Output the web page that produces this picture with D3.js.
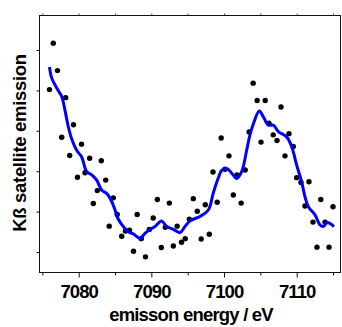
<!DOCTYPE html>
<html>
<head>
<meta charset="utf-8">
<script src="https://cdn.jsdelivr.net/npm/d3@7"></script>
<style>
  body { margin: 0; background: #fff; }
  svg text { font-family: "Liberation Sans", Arial, sans-serif; font-weight: bold; fill: #000; }
</style>
</head>
<body>
<div id="chart"></div>
<script>
// measured points (emission energy in eV, intensity in arb. units)
const energy = [7075.98, 7076.50, 7077.08, 7077.66, 7078.21, 7078.76, 7079.28, 7079.83, 7080.39, 7080.87,
  7081.51, 7082.01, 7082.56, 7083.11, 7083.72, 7084.20, 7084.76, 7085.30, 7085.92, 7086.44,
  7086.99, 7087.54, 7088.05, 7088.61, 7089.19, 7089.72, 7090.25, 7090.82, 7091.37, 7091.92,
  7092.47, 7093.02, 7093.55, 7094.15, 7094.66, 7095.22, 7095.77, 7096.32, 7096.86, 7097.42,
  7097.97, 7098.48, 7099.06, 7099.61, 7100.13, 7100.68, 7101.28, 7101.78, 7102.36, 7102.91,
  7103.46, 7104.01, 7104.56, 7105.09, 7105.67, 7106.19, 7106.77, 7107.29, 7107.84, 7108.39,
  7108.94, 7109.53, 7110.00, 7110.59, 7111.14, 7111.69, 7112.24, 7112.79, 7113.32, 7113.90,
  7114.45, 7115.00];
const intensity = [5.02, 6.17, 5.49, 3.84, 4.82, 3.39, 4.15, 2.85, 3.67, 2.96,
  3.32, 2.20, 2.52, 3.26, 2.78, 1.64, 2.34, 1.93, 1.39, 1.52,
  1.54, 1.02, 1.93, 1.33, 0.88, 1.56, 1.84, 2.30, 1.11, 1.61,
  2.21, 1.15, 1.64, 1.24, 1.33, 1.81, 2.32, 2.01, 1.32, 2.17,
  1.44, 2.98, 2.23, 3.82, 3.05, 3.38, 2.41, 2.91, 2.21, 3.03,
  3.97, 5.18, 4.75, 3.72, 4.75, 4.19, 3.90, 3.76, 4.59, 3.38,
  3.93, 3.61, 2.84, 2.72, 2.14, 2.74, 1.74, 1.12, 2.30, 1.74,
  1.12, 2.12];

// smoothed curve
const smoothEnergy = [7075.98, 7076.28, 7076.97, 7077.66, 7078.11, 7078.57, 7079.04, 7079.72, 7080.41, 7081.10,
  7081.79, 7082.48, 7083.17, 7083.85, 7084.54, 7085.00, 7085.45, 7086.14, 7086.83, 7087.51,
  7088.44, 7089.12, 7089.81, 7090.50, 7091.39, 7092.11, 7093.02, 7093.94, 7094.63, 7095.32,
  7096.69, 7097.84, 7098.52, 7099.21, 7099.68, 7100.37, 7101.06, 7101.74, 7102.43, 7103.12,
  7103.57, 7104.03, 7104.85, 7105.40, 7106.09, 7106.78, 7107.47, 7108.62, 7109.31, 7110.00,
  7110.69, 7111.14, 7111.60, 7112.52, 7113.21, 7113.66, 7114.21, 7114.58, 7115.13];
const smoothIntensity = [5.58, 5.31, 5.06, 4.85, 4.51, 4.10, 3.80, 3.52, 3.35, 2.99,
  2.91, 2.78, 2.53, 2.45, 2.25, 2.04, 1.81, 1.63, 1.50, 1.45,
  1.34, 1.46, 1.56, 1.63, 1.77, 1.63, 1.56, 1.48, 1.63, 1.77,
  1.88, 2.04, 2.46, 2.83, 3.02, 3.07, 2.95, 2.82, 2.99, 3.52,
  3.90, 4.17, 4.49, 4.35, 4.14, 4.14, 3.98, 3.85, 3.61, 3.15,
  2.73, 2.37, 2.12, 1.92, 1.67, 1.63, 1.73, 1.71, 1.63];

const xMajor = [7080, 7090, 7100, 7110];
const xMinor = [7075, 7085, 7095, 7105, 7115];
const yTicks = [1, 2, 3, 4, 5, 6];

const width = 342, height = 327;
const plotLeft = 39.5, plotRight = 340.5, plotTop = 15.5, plotBottom = 272.5;

const svg = d3.select('#chart').append('svg')
  .attr('width', width)
  .attr('height', height);

const x = d3.scaleLinear().domain([7074.606, 7116.03]).range([plotLeft, plotRight]);
const y = d3.scaleLinear().domain([0.4926, 6.854]).range([plotBottom, plotTop]);

// bottom axis, major + minor ticks
svg.append('g')
  .attr('transform', `translate(0,${plotBottom})`)
  .call(d3.axisBottom(x).tickValues(xMajor).tickSize(5).tickPadding(7).tickFormat(d3.format('d')))
  .call(g => g.select('.domain').remove())
  .call(g => g.selectAll('line').attr('stroke', '#111'))
  .call(g => g.selectAll('text').attr('font-size', 18.5).attr('letter-spacing', -0.9).attr('fill', '#000'));

svg.append('g')
  .attr('transform', `translate(0,${plotBottom})`)
  .call(d3.axisBottom(x).tickValues(xMinor).tickSize(3).tickFormat(''))
  .call(g => g.select('.domain').remove())
  .call(g => g.selectAll('line').attr('stroke', '#111'));

// top ticks
svg.append('g')
  .attr('transform', `translate(0,${plotTop})`)
  .call(d3.axisTop(x).tickValues(xMajor.concat(xMinor)).tickSize(2).tickFormat(''))
  .call(g => g.select('.domain').remove())
  .call(g => g.selectAll('line').attr('stroke', '#555'));

// left ticks, no labels
svg.append('g')
  .attr('transform', `translate(${plotLeft},0)`)
  .call(d3.axisLeft(y).tickValues(yTicks).tickSize(3).tickFormat(''))
  .call(g => g.select('.domain').remove())
  .call(g => g.selectAll('line').attr('stroke', '#111'));

// frame
svg.append('rect')
  .attr('x', plotLeft).attr('y', plotTop)
  .attr('width', plotRight - plotLeft).attr('height', plotBottom - plotTop)
  .attr('fill', 'none').attr('stroke', '#111').attr('stroke-width', 1);

// dots
svg.append('g')
  .selectAll('circle')
  .data(energy.map((e, i) => [e, intensity[i]]))
  .join('circle')
  .attr('cx', d => x(d[0]))
  .attr('cy', d => y(d[1]))
  .attr('r', 2.7)
  .attr('fill', '#000');

// smoothed line
const line = d3.line()
  .x(d => x(d[0]))
  .y(d => y(d[1]))
  .curve(d3.curveCatmullRom);

svg.append('path')
  .datum(smoothEnergy.map((e, i) => [e, smoothIntensity[i]]))
  .attr('d', line)
  .attr('fill', 'none')
  .attr('stroke', '#0000ff')
  .attr('stroke-width', 3)
  .attr('stroke-linejoin', 'round');

// axis titles
svg.append('text')
  .attr('x', 191)
  .attr('y', 321)
  .attr('text-anchor', 'middle')
  .attr('font-size', 18.5)
  .attr('letter-spacing', -0.8)
  .text('emisson energy / eV');

svg.append('text')
  .attr('transform', 'translate(26,143) rotate(-90)')
  .attr('text-anchor', 'middle')
  .attr('font-size', 18.5)
  .attr('letter-spacing', -0.3)
  .text('Kß satellite emission');
</script>
</body>
</html>
